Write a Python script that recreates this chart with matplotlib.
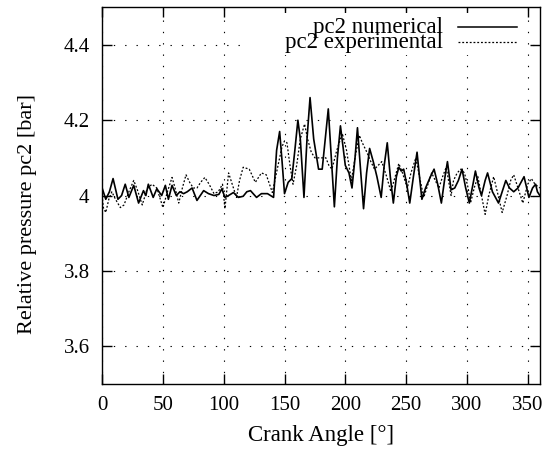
import matplotlib
matplotlib.use("Agg")
import matplotlib.pyplot as plt
from matplotlib.patches import Rectangle

# crank angle [deg] and pressure [bar]
num_angle = [0, 3, 6, 9, 13, 16, 19, 22, 26, 30, 34, 36, 38, 42, 45, 49, 52, 54.5,
             57.5, 61, 64, 67, 70, 74, 78, 83.5, 87.5, 92, 96, 98.5, 101, 104, 108,
             112, 116, 119, 122, 127, 131, 136, 141, 143.5, 146, 148, 150, 153, 156,
             158.5, 161, 163, 166, 168.5, 171, 174, 178, 181, 183.5, 186, 188.5, 191,
             193.5, 196, 200, 203, 205.5, 208, 210, 212.5, 215, 217.5, 220, 223, 226,
             229.5, 232, 234.5, 237, 239.5, 242, 244, 246, 248, 250.5, 253, 256, 259,
             261, 263, 266, 270, 273, 276, 279, 282, 284, 287, 290, 293, 296, 299,
             302, 305, 307, 310, 312, 315, 317, 321, 326, 329, 332, 335, 338.5, 342,
             347, 351, 354, 356.5, 358, 360]
num_p = [4.02, 3.99, 4.01, 4.045, 3.99, 4.0, 4.03, 3.995, 4.027, 3.98, 4.013, 4.0,
         4.03, 3.995, 4.018, 4.0, 4.027, 3.99, 4.027, 4.0, 4.01, 4.005, 4.01, 4.02,
         3.987, 4.013, 4.005, 4.0, 4.003, 4.018, 3.995, 4.0, 4.008, 3.995, 3.998,
         4.01, 4.013, 3.995, 4.005, 4.005, 3.995, 4.12, 4.17, 4.09, 4.005, 4.035,
         4.045, 4.12, 4.2, 4.15, 3.995, 4.15, 4.26, 4.15, 4.07, 4.07, 4.15, 4.23,
         4.1, 3.97, 4.1, 4.185, 4.08, 4.06, 4.02, 4.1, 4.18, 4.07, 3.965, 4.06,
         4.125, 4.09, 4.05, 3.995, 4.08, 4.14, 4.05, 3.98, 4.05, 4.075, 4.065, 4.07,
         4.03, 3.98, 4.05, 4.115, 4.05, 3.99, 4.02, 4.05, 4.07, 4.03, 3.98, 4.05,
         4.09, 4.015, 4.02, 4.04, 4.07, 4.02, 3.98, 4.03, 4.065, 4.02, 4.0, 4.04,
         4.06, 4.01, 3.98, 4.01, 4.04, 4.02, 4.01, 4.02, 4.05, 3.995, 4.02, 4.03,
         4.01, 4.0]

exp_angle = [0, 1, 3, 5.5, 8, 11, 15, 18, 22, 26, 29, 33, 37, 41, 45, 50, 54, 57.5,
             60, 63, 66, 69, 72, 75, 78, 81, 84.5, 88, 92, 95.5, 99, 101, 104, 107,
             110.5, 113, 116, 121, 126, 131, 135, 140, 145, 148, 150, 152, 154.5, 157,
             160, 163, 166.5, 169, 172, 175, 180, 184, 186.5, 189, 193, 197.5, 201,
             205, 208, 211.5, 214, 217, 221, 224, 227, 230, 234, 237.5, 241, 244, 247,
             251, 254, 258, 261, 264.5, 268, 271, 274, 277, 280, 283, 287, 289, 292,
             295, 298, 301, 303, 306, 309, 312, 315, 318, 322, 325, 329, 333, 336,
             338.5, 342, 346, 350, 353, 356, 360]
exp_p = [4.0, 3.968, 3.955, 3.99, 4.01, 3.99, 3.968, 3.975, 4.01, 4.04, 4.015, 3.975,
         4.018, 4.03, 4.02, 3.968, 4.013, 4.048, 4.02, 3.98, 4.02, 4.055, 4.035, 4.02,
         4.02, 4.035, 4.048, 4.03, 4.005, 4.01, 4.03, 3.965, 4.06, 4.03, 3.995, 4.04,
         4.075, 4.07, 4.035, 4.06, 4.055, 4.008, 4.085, 4.13, 4.145, 4.14, 4.08, 4.03,
         4.08, 4.15, 4.19, 4.15, 4.115, 4.1, 4.1, 4.1, 4.08, 4.07, 4.12, 4.165, 4.12,
         4.04, 4.1, 4.16, 4.14, 4.12, 4.09, 4.07, 4.08, 4.09, 4.05, 4.01, 4.05, 4.085,
         4.06, 4.02, 4.06, 4.1, 4.05, 3.995, 4.03, 4.06, 4.04, 4.02, 4.05, 4.075, 4.0,
         4.04, 4.06, 4.07, 4.06, 4.02, 3.98, 4.02, 4.05, 4.0, 3.95, 4.0, 4.05, 4.01,
         3.955, 4.0, 4.04, 4.055, 4.02, 3.98, 4.03, 4.045, 4.03, 4.02]

xticks = [0, 50, 100, 150, 200, 250, 300, 350]
yticks = [3.6, 3.8, 4.0, 4.2, 4.4]
yticklabels = ["3.6", "3.8", "4", "4.2", "4.4"]

plt.rcParams['font.family'] = ['Liberation Serif', 'DejaVu Serif']
plt.rcParams['font.size'] = 15

fig = plt.figure(figsize=(5.52, 4.5), dpi=100)
ax = fig.add_axes([0.185, 0.147, 0.793, 0.837])

ax.plot(num_angle, num_p, color='black', lw=1.2, zorder=3,
        solid_joinstyle='round')
ax.plot(exp_angle, exp_p, color='black', lw=0.9, ls=(0, (1.5, 1.5)), zorder=3)

ax.set_xlim(0, 360)
ax.set_ylim(3.5, 4.5)
ax.set_xticks(xticks)
ax.set_yticks(yticks)
ax.set_yticklabels(yticklabels)
ax.tick_params(direction='in', length=7, width=1, top=True, right=True,
               labelsize=15, pad=9)
ax.tick_params(axis='x', pad=9)
for s in ax.spines.values():
    s.set_linewidth(1.0)

ax.grid(True, color='black', lw=0.8, ls=(0, (1.2, 9)))
ax.set_axisbelow(True)

ax.set_xlabel("Crank Angle [°]", fontsize=16.5)
ax.set_ylabel("Relative pressure pc2 [bar]", fontsize=16)
ax.xaxis.set_label_coords(0.5, -0.108)
ax.yaxis.set_label_coords(-0.148, 0.45)

# gnuplot-style key: white box over the grid, text right aligned, sample on the right
ax.add_patch(Rectangle((0.33, 0.872), 0.635, 0.113, transform=ax.transAxes,
                       facecolor='white', edgecolor='none', zorder=2))
ax.text(0.778, 0.945, "pc2 numerical", transform=ax.transAxes, ha='right',
        va='center', fontsize=16.5, zorder=4)
ax.text(0.778, 0.905, "pc2 experimental", transform=ax.transAxes, ha='right',
        va='center', fontsize=16.5, zorder=4)
ax.plot([0.813, 0.947], [0.948, 0.948], transform=ax.transAxes, color='black',
        lw=1.1, zorder=4)
ax.plot([0.813, 0.947], [0.908, 0.908], transform=ax.transAxes, color='black',
        lw=0.9, ls=(0, (1.5, 1.5)), zorder=4)

fig.savefig("out.png", dpi=100)
